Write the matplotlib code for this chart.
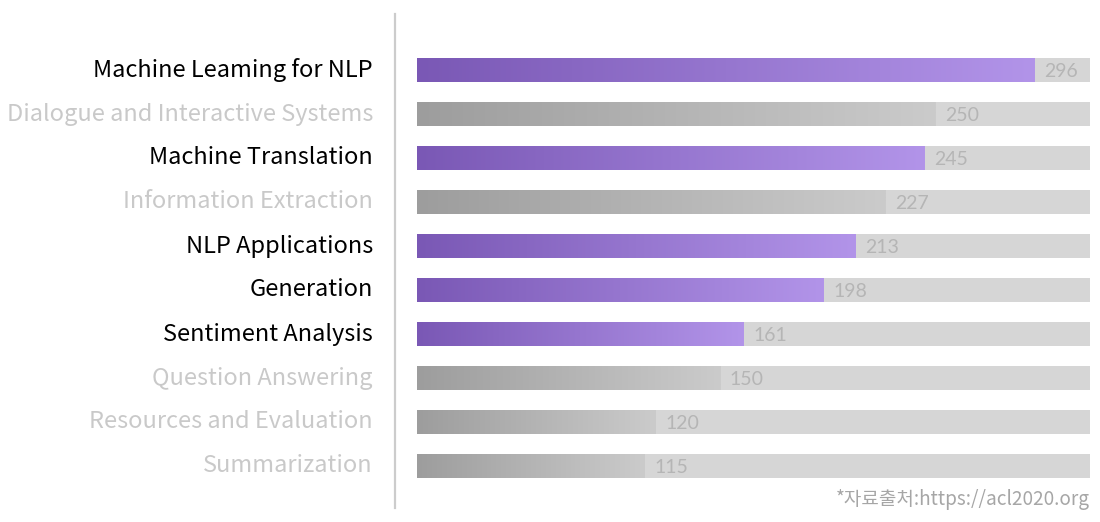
import matplotlib.pyplot as plt
import numpy as np
from matplotlib.colors import LinearSegmentedColormap
from matplotlib.lines import Line2D

# --- データ ------------------------------------------------
topics = ['Machine Leaming for NLP', 'Dialogue and Interactive Systems', 'Machine Translation',
          'Information Extraction', 'NLP Applications', 'Generation', 'Sentiment Analysis',
          'Question Answering', 'Resources and Evaluation', 'Summarization']
papers = [296, 250, 245, 227, 213, 198, 161, 150, 120, 115]
highlight = [True, False, True, False, True, True, True, False, False, False]
source_note = '*자료출처:https://acl2020.org'

# --- 見た目 ------------------------------------------------
purple = LinearSegmentedColormap.from_list('p', ['#7a58b5', '#b294e9'])
gray = LinearSegmentedColormap.from_list('g', ['#9d9d9d', '#cbcbcb'])
track_color = '#d6d6d6'
label_font = ['Noto Sans CJK KR', 'DejaVu Sans']
x_min, x_max = 9, 322

fig = plt.figure(figsize=(11, 5.22), dpi=100)
ax = fig.add_axes([417 / 1100, 1 - 488 / 522, 673 / 1100, 440 / 522])
ax.axis('off')

bar_h = 0.545
grad = np.linspace(0, 1, 256).reshape(1, -1)
for i, (name, v, hl) in enumerate(zip(topics, papers, highlight)):
    # 背景トラック
    ax.barh(i, x_max - x_min, left=x_min, height=bar_h, color=track_color, zorder=1)
    # グラデーションバー
    ax.imshow(grad, cmap=purple if hl else gray, aspect='auto', zorder=2,
              extent=(x_min, v, i + bar_h / 2, i - bar_h / 2), interpolation='bilinear')
    ax.annotate(str(v), (v, i), xytext=(7, -1), textcoords='offset points',
                va='center', ha='left', fontsize=14, color='#b5b5b5',
                family=['Lato', 'DejaVu Sans'])
    fig.text(373 / 1100, 1 - (70 + 44 * i) / 522, name, ha='right', va='center',
             fontsize=17, color='#000000' if hl else '#c9c9c9', family=label_font)

ax.set_xlim(x_min, x_max)
ax.set_ylim(len(topics) - 0.5, -0.5)

# 区切り線
fig.add_artist(Line2D([395 / 1100, 395 / 1100], [1 - 14 / 522, 1 - 508 / 522],
                      color='#cccccc', linewidth=1.6))

fig.text(1090 / 1100, 1 - 500 / 522, source_note, ha='right', va='center',
         fontsize=13.7, color='#a6a6a6', family=label_font)

fig.savefig('out.png', dpi=100)
